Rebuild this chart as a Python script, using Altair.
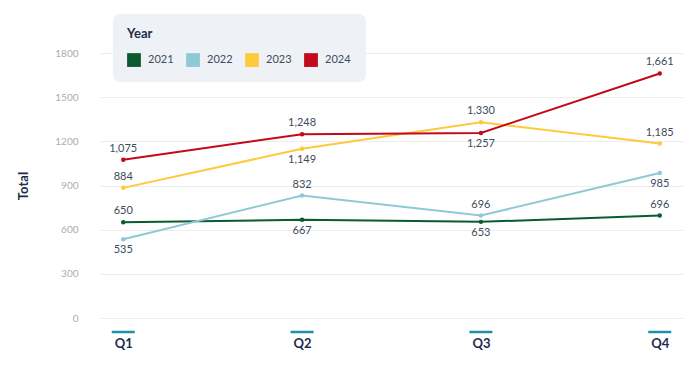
import altair as alt
import pandas as pd

quarters = ["Q1", "Q2", "Q3", "Q4"]
years = ["2021", "2022", "2023", "2024"]
v2021 = [650, 667, 653, 696]
v2022 = [535, 832, 696, 985]
v2023 = [884, 1149, 1330, 1185]
v2024 = [1075, 1248, 1257, 1661]
side2021 = ["above", "below", "below", "above"]
side2022 = ["below", "above", "above", "below"]
side2023 = ["above", "below", "above", "above"]
side2024 = ["above", "above", "below", "above"]
colors = ["#0b5a32", "#8ecad6", "#ffc93c", "#c10a1c"]
y_ticks = [0, 300, 600, 900, 1200, 1500, 1800]

rows = []
for yr, vals, sides in zip(years, [v2021, v2022, v2023, v2024],
                           [side2021, side2022, side2023, side2024]):
    for q, v, s in zip(quarters, vals, sides):
        rows.append({"Quarter": q, "Year": yr, "Total": v, "side": s})
df = pd.DataFrame(rows)

FONT = "Lato"
NAVY = "#1d2d4a"
LABEL = "#3e4b5e"

x = alt.X("Quarter:N", sort=quarters, title=None,
          scale=alt.Scale(type="point", padding=0.13),
          axis=alt.Axis(labelAngle=0, labelFontWeight="bold", labelFontSize=13,
                        labelColor=NAVY, labelPadding=19, ticks=False,
                        domain=False, grid=False, labelFont=FONT))
y = alt.Y("Total:Q", title="Total",
          scale=alt.Scale(domain=[0, 1800], nice=False),
          axis=alt.Axis(values=y_ticks, format="d", labelColor="#a9adb3", labelFontSize=10,
                        labelFont=FONT, labelPadding=22, ticks=False, domain=False,
                        gridColor="#ececec", titleFont=FONT, titleFontSize=13,
                        titleFontWeight="bold", titleColor=NAVY, titlePadding=24))
color = alt.Color("Year:N", sort=years,
                  scale=alt.Scale(domain=years, range=colors),
                  legend=alt.Legend(orient="none", legendX=13, legendY=-39,
                                    direction="horizontal", title="Year",
                                    titleFont=FONT, titleFontSize=13,
                                    titleFontWeight="bold", titleColor=NAVY,
                                    titlePadding=12,
                                    labelFont=FONT, labelFontSize=11, labelColor=LABEL,
                                    symbolType="square", symbolSize=190,
                                    symbolStrokeWidth=0, symbolOpacity=1,
                                    labelOffset=7, columnPadding=12,
                                    padding=14, cornerRadius=6,
                                    fillColor="#eef2f6", strokeColor="#eef2f6"))

base = alt.Chart(df)
lines = base.mark_line(strokeWidth=2).encode(x=x, y=y, color=color)
points = base.mark_circle(size=20, opacity=1).encode(x=x, y=y, color=color)
above = base.transform_filter(alt.datum.side == "above").mark_text(
    dy=-11, font=FONT, fontSize=11, color=LABEL).encode(
    x=x, y=y, text=alt.Text("Total:Q", format=","))
below = base.transform_filter(alt.datum.side == "below").mark_text(
    dy=11, font=FONT, fontSize=11, color=LABEL).encode(
    x=x, y=y, text=alt.Text("Total:Q", format=","))
bars = alt.Chart(pd.DataFrame({"Quarter": quarters})).mark_tick(
    orient="horizontal", size=23, thickness=2.5, color="#1f8fab", opacity=1).encode(
    x=alt.X("Quarter:N", sort=quarters), y=alt.value(279))

chart = alt.layer(lines, points, above, below, bars).properties(
    width=583, height=265,
    autosize=alt.AutoSizeParams(type="none"),
    padding={"left": 92, "top": 45, "right": 9, "bottom": 40},
).configure_view(stroke=None)

chart.save("out.html", embed_options={"renderer": "svg", "actions": False})
